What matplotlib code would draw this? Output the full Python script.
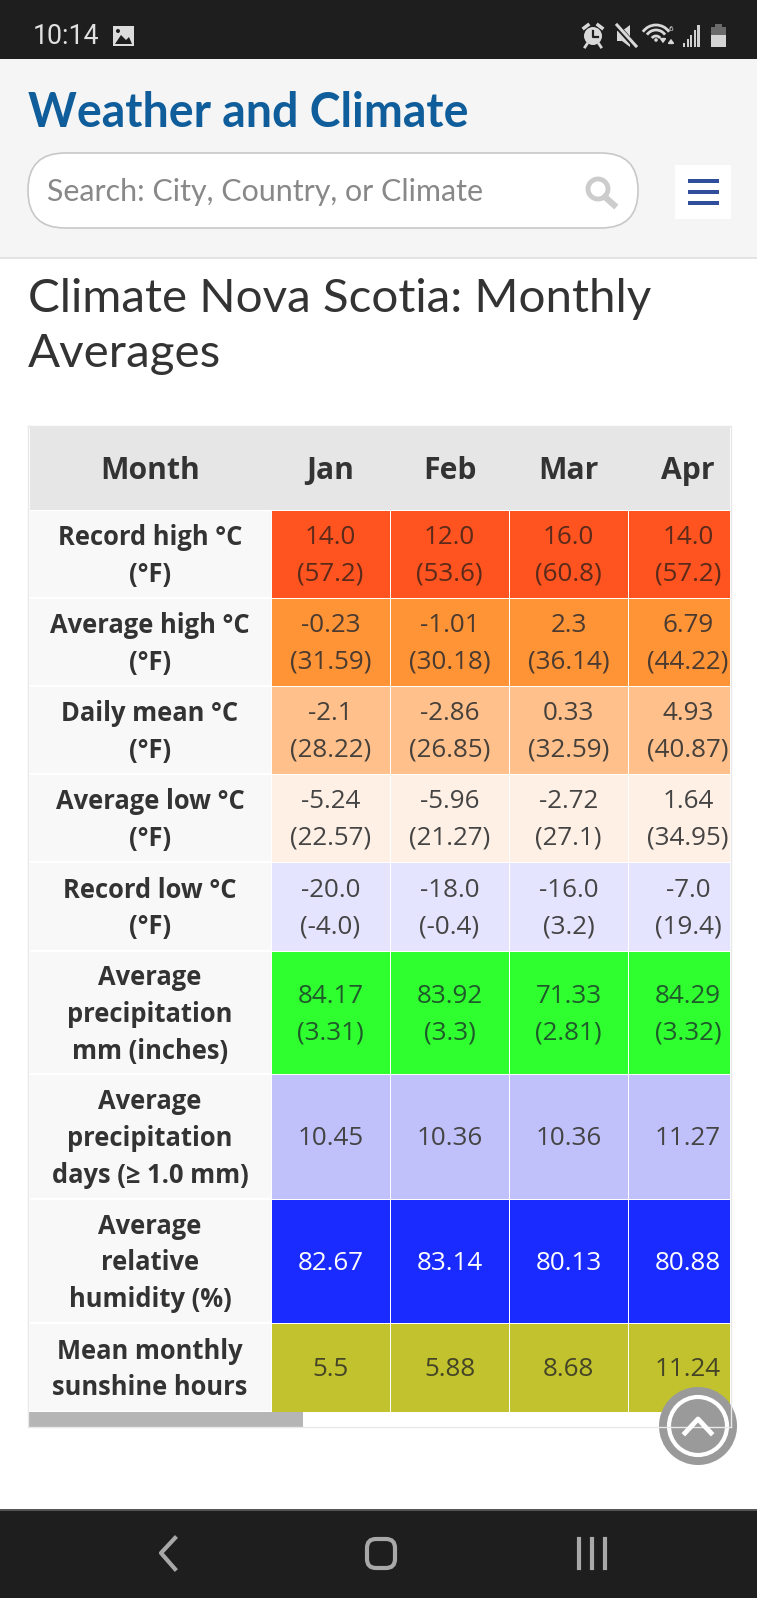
import matplotlib
matplotlib.use("Agg")
import matplotlib.pyplot as plt
from matplotlib.patches import Rectangle, FancyBboxPatch, Circle, Ellipse, Polygon, Arc

WIDTH = 757
HEIGHT = 1598

months = ["Jan", "Feb", "Mar", "Apr"]
row_labels = [
    "Record high °C\n(°F)",
    "Average high °C\n(°F)",
    "Daily mean °C\n(°F)",
    "Average low °C\n(°F)",
    "Record low °C\n(°F)",
    "Average\nprecipitation\nmm (inches)",
    "Average\nprecipitation\ndays (≥ 1.0 mm)",
    "Average\nrelative\nhumidity (%)",
    "Mean monthly\nsunshine hours",
]
record_high = ["14.0\n(57.2)", "12.0\n(53.6)", "16.0\n(60.8)", "14.0\n(57.2)"]
average_high = ["-0.23\n(31.59)", "-1.01\n(30.18)", "2.3\n(36.14)", "6.79\n(44.22)"]
daily_mean = ["-2.1\n(28.22)", "-2.86\n(26.85)", "0.33\n(32.59)", "4.93\n(40.87)"]
average_low = ["-5.24\n(22.57)", "-5.96\n(21.27)", "-2.72\n(27.1)", "1.64\n(34.95)"]
record_low = ["-20.0\n(-4.0)", "-18.0\n(-0.4)", "-16.0\n(3.2)", "-7.0\n(19.4)"]
precipitation = ["84.17\n(3.31)", "83.92\n(3.3)", "71.33\n(2.81)", "84.29\n(3.32)"]
precipitation_days = ["10.45", "10.36", "10.36", "11.27"]
humidity = ["82.67", "83.14", "80.13", "80.88"]
sunshine = ["5.5", "5.88", "8.68", "11.24"]

table_rows = [record_high, average_high, daily_mean, average_low, record_low,
              precipitation, precipitation_days, humidity, sunshine]

row_colors = ["#ff5320", "#ff9436", "#ffc08c", "#fff0e6", "#e4e4ff",
              "#2fff2f", "#c0c0fb", "#1a2bff", "#c2c22e"]
text_colors = ["#5a2a1a", "#4a3a30", "#45403a", "#444444", "#444444",
               "#1f5a2a", "#444444", "#ffffff", "#444426"]

# pixel edges of the table grid, Apr runs on past the clip so its text centre is set apart
col_edges = [29, 271, 390, 509, 628, 730]
col_centers = [330.5, 449.5, 568.5, 688]
row_edges = [427, 510, 598, 686, 774, 862, 951, 1074, 1199, 1323, 1412]

fig = plt.figure(figsize=(WIDTH / 100, HEIGHT / 100), dpi=100)
ax = fig.add_axes([0, 0, 1, 1])
ax.set_xlim(0, WIDTH)
ax.set_ylim(HEIGHT, 0)
ax.axis("off")


def box(x0, y0, x1, y1, color, **kwargs):
    ax.add_patch(Rectangle((x0, y0), x1 - x0, y1 - y0, facecolor=color, edgecolor="none", **kwargs))


# status bar and page header
box(0, 0, WIDTH, 59, "#1e1e1e")
box(0, 59, WIDTH, 258, "#f5f5f5")
box(0, 257, WIDTH, 259, "#e4e4e4")
ax.text(33, 37, "10:14", color="#e0e0e0", fontsize=19.2, family="Roboto", va="center")
box(113, 26, 134, 46, "#dcdcdc")
ax.add_patch(Polygon([(115, 44), (121, 35), (126, 40), (129, 37), (132, 44)], facecolor="#1e1e1e"))
ax.add_patch(Circle((118, 31), 2, facecolor="#1e1e1e"))

# status icons, right side
ax.add_patch(Circle((593, 36), 9, facecolor="#d8d8d8"))
ax.plot([593, 593, 598], [31, 37, 37], color="#1e1e1e", lw=1.6)
ax.plot([584, 588], [28, 25], color="#d8d8d8", lw=2.5)
ax.plot([602, 598], [28, 25], color="#d8d8d8", lw=2.5)
ax.plot([587, 585], [44, 47], color="#d8d8d8", lw=2)
ax.plot([599, 601], [44, 47], color="#d8d8d8", lw=2)
ax.add_patch(Polygon([(617, 31), (622, 31), (630, 25), (630, 47), (622, 41), (617, 41)], facecolor="#d8d8d8"))
ax.plot([617, 636], [26, 47], color="#1e1e1e", lw=4)
ax.plot([617, 636], [25, 46], color="#d8d8d8", lw=2.2)
for r in (5, 11, 16):
    ax.add_patch(Arc((656, 41), r * 2, r * 2, theta1=215, theta2=325, color="#d8d8d8", lw=2))
ax.add_patch(Circle((656, 40), 1.8, facecolor="#d8d8d8"))
ax.text(671, 29, "6", color="#d8d8d8", fontsize=6, family="Roboto", ha="center", va="center")
ax.annotate("", xy=(663, 46), xytext=(663, 36), arrowprops=dict(arrowstyle="-|>,head_width=0.15,head_length=0.2", color="#d8d8d8", lw=1.4))
ax.annotate("", xy=(671, 36), xytext=(671, 46), arrowprops=dict(arrowstyle="-|>,head_width=0.15,head_length=0.2", color="#d8d8d8", lw=1.4))
for i, h in enumerate([4, 8, 12, 17, 22]):
    box(683 + i * 3.6, 47 - h, 685.2 + i * 3.6, 47, "#d0d0d0")
box(711, 27, 726, 47, "#d4d4d4")
box(715, 24, 722, 27, "#6a6a6a")
box(711, 27, 726, 35, "#6a6a6a")

# site title and search box
ax.text(28, 113, "Weather and Climate", color="#0f5d9a", fontsize=33.5, fontweight="bold",
        family="Lato", va="center")
ax.add_patch(FancyBboxPatch((28, 153), 610, 75, boxstyle="round,pad=0,rounding_size=37",
                            facecolor="#ffffff", edgecolor="#c8c8c8", lw=1.2))
ax.text(47, 192, "Search: City, Country, or Climate", color="#888888", fontsize=21.9,
        family="Lato", va="center")
ax.add_patch(Circle((598, 189), 10, facecolor="none", edgecolor="#cccccc", lw=3.5))
ax.plot([605, 614], [197, 205], color="#cccccc", lw=4.5)
box(675, 165, 731, 219, "#ffffff")
for y in (181, 192, 203):
    box(688, y - 2, 719, y + 2, "#2f4f9c")

# page title
ax.text(28, 299, "Climate Nova Scotia: Monthly", color="#333333", fontsize=34.2,
        family="Lato", va="center")
ax.text(28, 354, "Averages", color="#333333", fontsize=34.2, family="Lato", va="center")

# table frame and header
box(28, 425, 731, 1427, "#ffffff")
ax.plot([28, 731, 731], [426, 426, 1427], color="#e8e8e8", lw=1)
ax.plot([28, 28, 731], [426, 1427, 1427], color="#e8e8e8", lw=1)
box(col_edges[0] + 1, row_edges[0], col_edges[-1], row_edges[1], "#e6e6e6")
ax.text((col_edges[0] + col_edges[1]) / 2, 471, "Month", color="#333333", fontsize=21.7,
        fontweight="bold", family="Open Sans", ha="center", va="center")
for j, month in enumerate(months):
    ax.text(col_centers[j], 471, month, color="#333333", fontsize=21.7,
            fontweight="bold", family="Open Sans", ha="center", va="center")

# table body
for i, (label, values) in enumerate(zip(row_labels, table_rows)):
    y0, y1 = row_edges[i + 1], row_edges[i + 2]
    ym = (y0 + y1) / 2 + 2
    box(col_edges[0] + 1, y0 + 1, col_edges[1], y1 - 1, "#f8f8f8")
    ax.text((col_edges[0] + col_edges[1]) / 2, ym, label, color="#333333", fontsize=18.4,
            fontweight="bold", family="Open Sans", ha="center", va="center", linespacing=1.47)
    for j, value in enumerate(values):
        x0, x1 = col_edges[j + 1], col_edges[j + 2]
        box(x0 + 0.5, y0 + 0.5, x1 - 0.5, y1 - 0.5, row_colors[i])
        ax.text(col_centers[j], ym, value, color=text_colors[i], fontsize=18.7,
                family="Open Sans", ha="center", va="center", linespacing=1.58)

# horizontal scrollbar
box(29, row_edges[-1], 303, 1427, "#b5b5b5")

# back to top button
ax.add_patch(Ellipse((698, 1426), 78, 78, facecolor="#9a9a9a", edgecolor="none"))
ax.add_patch(Ellipse((698, 1426), 58, 58, facecolor="#9a9a9a", edgecolor="#ffffff", lw=3))
ax.plot([685, 698, 711], [1433, 1419, 1433], color="#ffffff", lw=3.5)

# android nav bar
box(0, 1510, WIDTH, HEIGHT, "#1e1e1e")
box(0, 1509, WIDTH, 1511, "#555555")
ax.plot([175, 161, 175], [1538, 1553, 1569], color="#a8a8a8", lw=3)
ax.add_patch(FancyBboxPatch((367, 1539), 28, 29, boxstyle="round,pad=0,rounding_size=9",
                            facecolor="none", edgecolor="#a8a8a8", lw=3))
for x in (579, 592, 605):
    ax.plot([x, x], [1539, 1568], color="#a8a8a8", lw=3)

fig.savefig("out.png", dpi=100)
